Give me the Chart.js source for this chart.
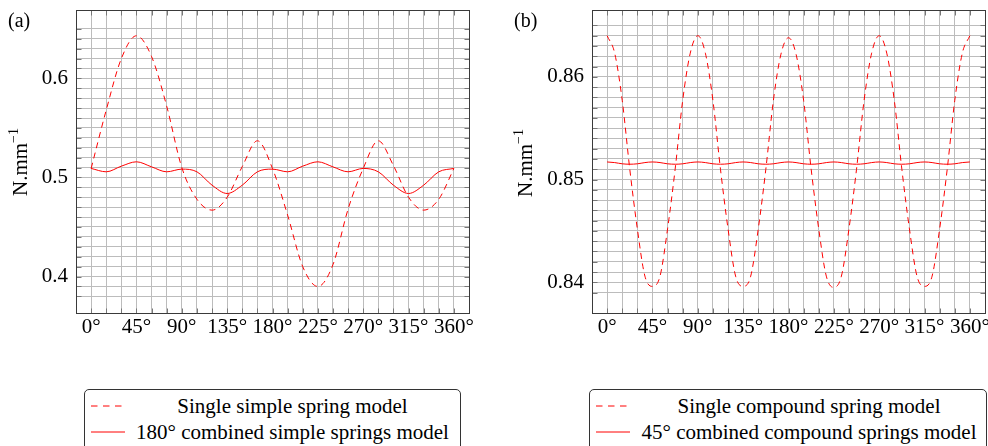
<!DOCTYPE html>
<html><head><meta charset="utf-8">
<script src="https://cdn.jsdelivr.net/npm/chart.js@4.4.1/dist/chart.umd.min.js"></script>
<style>
html,body{margin:0;padding:0;background:#fff;overflow:hidden;width:988px;height:446px;}
body{position:relative;font-family:"Liberation Serif",serif;color:#000;}
canvas{position:absolute;top:0;}
.plabel{position:absolute;font-size:20px;line-height:20px;white-space:nowrap;}
.ytitle{position:absolute;width:100px;height:24px;line-height:24px;font-size:21px;text-align:center;transform:rotate(-90deg);white-space:nowrap;font-family:"Liberation Serif",serif;}
.ytitle sup{font-size:14px;line-height:0;position:relative;top:-1px;}
.legend{position:absolute;top:389px;height:90px;border:1px solid #333;border-radius:5px;box-sizing:border-box;}
.row{position:absolute;left:0;right:0;height:26px;font-size:21px;line-height:26px;}
.row svg{position:absolute;top:0;}
.row span{position:absolute;top:0;text-align:center;white-space:nowrap;}
</style>
</head><body>
<canvas id="ca" width="494" height="350" style="left:0px;width:494px;height:350px"></canvas>
<canvas id="cb" width="510" height="350" style="left:500px;width:510px;height:350px"></canvas>

<div class="plabel" style="left:8px;top:10px">(a)</div>
<div class="plabel" style="left:514px;top:10px">(b)</div>
<div class="ytitle" style="left:-30px;top:150px">N.mm<sup>−1</sup></div>
<div class="ytitle" style="left:475px;top:151px">N.mm<sup>−1</sup></div>

<div class="legend" style="left:84px;width:377px">
  <div class="row" style="top:3px">
    <svg style="left:6px" width="34" height="26"><line x1="0" y1="13" x2="34" y2="13" stroke="#ff0000" stroke-width="1" stroke-dasharray="6.5,5.5"/></svg>
    <span style="left:44px;width:327px">Single simple spring model</span>
  </div>
  <div class="row" style="top:29px">
    <svg style="left:6px" width="34" height="26"><line x1="0" y1="13" x2="34" y2="13" stroke="#ff0000" stroke-width="1"/></svg>
    <span style="left:44px;width:327px">180° combined simple springs model</span>
  </div>
</div>
<div class="legend" style="left:589px;width:398px">
  <div class="row" style="top:3px">
    <svg style="left:6px" width="34" height="26"><line x1="0" y1="13" x2="34" y2="13" stroke="#ff0000" stroke-width="1" stroke-dasharray="6.5,5.5"/></svg>
    <span style="left:44px;width:350px">Single compound spring model</span>
  </div>
  <div class="row" style="top:29px">
    <svg style="left:6px" width="34" height="26"><line x1="0" y1="13" x2="34" y2="13" stroke="#ff0000" stroke-width="1"/></svg>
    <span style="left:44px;width:350px">45° combined compound springs model</span>
  </div>
</div>

<script>
// ---- data (a) ----
const anglesA = [0,15,30,45,60,75,90,105,120,135,150,165,180,195,210,225,240,255,270,285,300,315,330,345,360];
const singleSimple = [0.509,0.568,0.620,0.643,0.622,0.572,0.510,0.478,0.467,0.480,0.511,0.537,0.509,0.462,0.410,0.390,0.412,0.468,0.509,0.537,0.512,0.480,0.467,0.478,0.509];
const combinedSimple = [0.5091,0.5057,0.5114,0.5158,0.5107,0.5057,0.5084,0.5057,0.4922,0.4838,0.4922,0.5057,0.5084,0.5057,0.5114,0.5158,0.5107,0.5057,0.5091,0.5057,0.4922,0.4838,0.4922,0.5057,0.5091];
// ---- data (b) ----
const anglesB = [0,7.5,15,22.5,30,37.5,45,52.5,60,67.5,75,82.5,90,97.5,105,112.5,120,127.5,135,142.5,150,157.5,165,172.5,180,187.5,195,202.5,210,217.5,225,232.5,240,247.5,255,262.5,270,277.5,285,292.5,300,307.5,315,322.5,330,337.5,345,352.5,360];
const singleCompound = [0.8640,0.8623,0.8577,0.8510,0.8452,0.8406,0.8396,0.8406,0.8452,0.8510,0.8577,0.8623,0.8640,0.8623,0.8577,0.8510,0.8452,0.8406,0.8396,0.8406,0.8452,0.8510,0.8577,0.8622,0.8638,0.8622,0.8577,0.8510,0.8452,0.8406,0.8395,0.8406,0.8452,0.8510,0.8577,0.8623,0.8640,0.8623,0.8577,0.8510,0.8452,0.8406,0.8396,0.8406,0.8452,0.8510,0.8577,0.8623,0.8640];
const combinedCompound = [0.85171,0.85165,0.85153,0.85149,0.85153,0.85165,0.85171,0.85165,0.85153,0.85149,0.85153,0.85165,0.85171,0.85165,0.85153,0.85149,0.85153,0.85165,0.85171,0.85165,0.85153,0.85149,0.85153,0.85165,0.85171,0.85165,0.85153,0.85149,0.85153,0.85165,0.85171,0.85165,0.85153,0.85149,0.85153,0.85165,0.85171,0.85165,0.85153,0.85149,0.85153,0.85165,0.85171,0.85165,0.85153,0.85149,0.85153,0.85165,0.85171];
// ---- axis ticks ----
const xTickLabels = [0,45,90,135,180,225,270,315,360];
const yTickLabelsA = [0.4,0.5,0.6];
const yTickLabelsB = [0.84,0.85,0.86];

const FONT = {family:'"Liberation Serif", serif', size:21};
const GRID = '#bcbcbc';

const frame = {
  id:'frame',
  afterDraw(chart){
    const a = chart.chartArea, c = chart.ctx;
    const L = Math.round(a.left)+0.5, T = Math.round(a.top)+0.5, R = Math.round(a.right)+0.5, B = Math.round(a.bottom)+0.5;
    c.save();
    // inner tick marks at every grid line
    c.strokeStyle = '#777'; c.lineWidth = 1;
    c.beginPath();
    chart.scales.y.ticks.forEach(t=>{
      const y = Math.round(chart.scales.y.getPixelForValue(t.value))+0.5;
      c.moveTo(L, y); c.lineTo(L+5, y);
      c.moveTo(R, y); c.lineTo(R-5, y);
    });
    chart.scales.x.ticks.forEach(t=>{
      const x = Math.round(chart.scales.x.getPixelForValue(t.value))+0.5;
      c.moveTo(x, B); c.lineTo(x, B-5);
      c.moveTo(x, T); c.lineTo(x, T+5);
    });
    c.stroke();
    c.strokeStyle = '#3a3a3a';
    c.strokeRect(L, T, R-L, B-T);
    c.restore();
  }
};

function pts(xs, ys){ return xs.map((x,i)=>({x:x, y:ys[i]})); }

function makeChart(id, dashedData, solidData, ymin, ymax, ystep, yLabels, yDec, yAxisW){
  return new Chart(document.getElementById(id), {
    type:'line',
    data:{datasets:[
      {data:dashedData, borderColor:'#ff0000', borderWidth:1, borderDash:[6,4.5], pointRadius:0, cubicInterpolationMode:'monotone', fill:false},
      {data:solidData, borderColor:'#ff0000', borderWidth:1, pointRadius:0, cubicInterpolationMode:'monotone', fill:false}
    ]},
    options:{
      responsive:false, animation:false, events:[],
      layout:{padding:{top:10,right:25,left:0,bottom:0}},
      plugins:{legend:{display:false}, tooltip:{enabled:false}},
      scales:{
        x:{type:'linear', min:-15, max:375,
           afterFit:s=>{s.height=37; s.paddingLeft=0; s.paddingRight=0;},
           grid:{color:GRID, lineWidth:1, drawTicks:false},
           border:{display:false},
           ticks:{stepSize:15, autoSkip:false, maxRotation:0, padding:2, color:'#000', font:FONT,
             callback:v=> xTickLabels.includes(v) ? v+'°' : ''}
        },
        y:{type:'linear', min:ymin, max:ymax,
           afterFit:s=>{s.width=yAxisW; s.paddingTop=0; s.paddingBottom=0;},
           grid:{color:GRID, lineWidth:1, drawTicks:false},
           border:{display:false},
           ticks:{stepSize:ystep, autoSkip:false, padding:8, color:'#000', font:FONT,
             callback:v=>{ const m = yLabels.find(t=>Math.abs(t-v)<ystep/100); return m!==undefined ? m.toFixed(yDec) : ''; }}
        }
      }
    },
    plugins:[frame]
  });
}

makeChart('ca', pts(anglesA, singleSimple), pts(anglesA, combinedSimple), 0.3632, 0.669, 0.01, yTickLabelsA, 1, 76);
makeChart('cb', pts(anglesB, singleCompound), pts(anglesB, combinedCompound), 0.83701, 0.8665, 0.001, yTickLabelsB, 2, 92);
</script>
</body></html>
